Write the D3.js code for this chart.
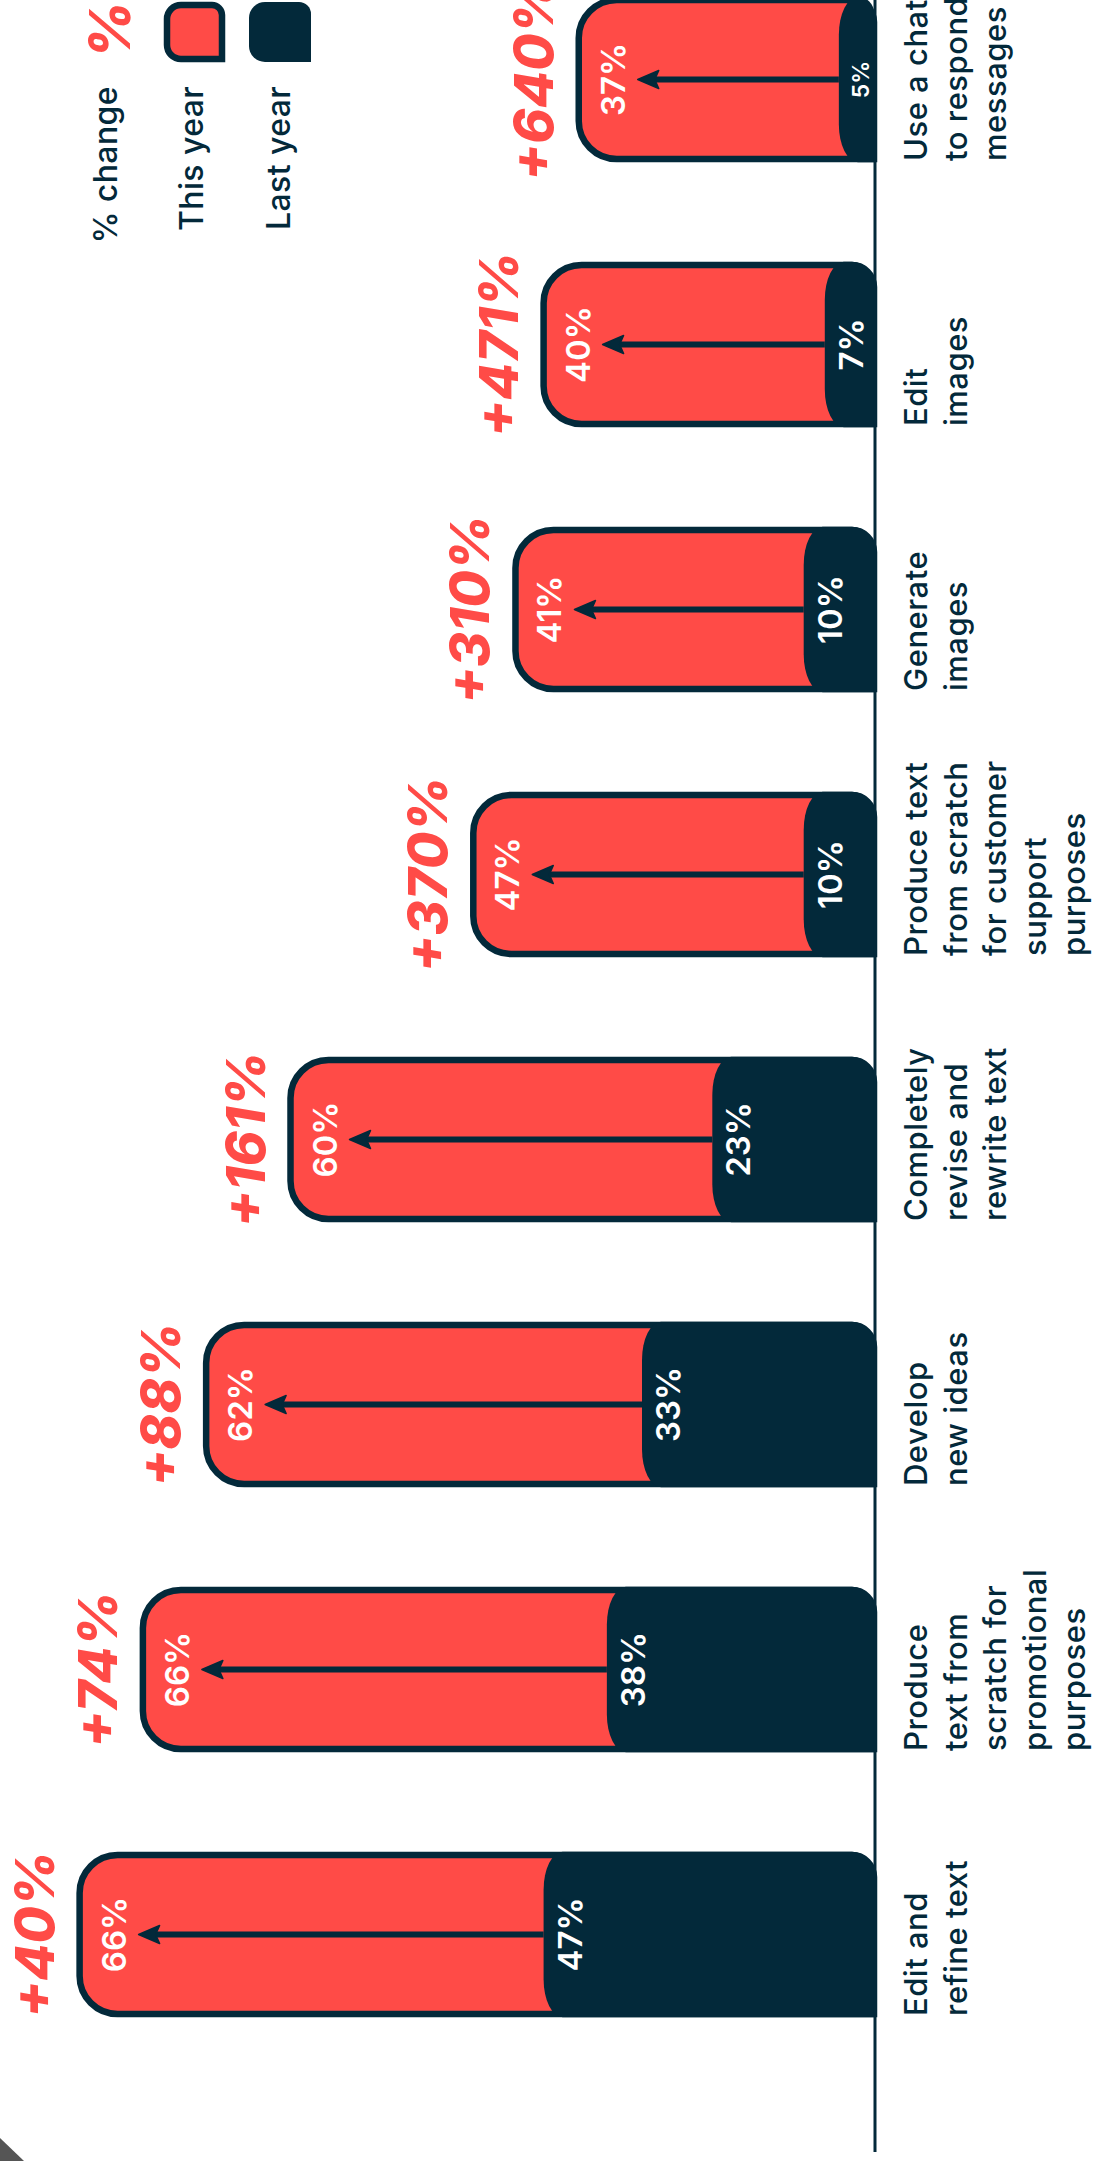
<!DOCTYPE html>
<html>
<head>
<meta charset="utf-8">
<script src="https://cdn.jsdelivr.net/npm/d3@7"></script>
<style>
  html, body { margin: 0; padding: 0; background: #ffffff; }
  svg { display: block; }
  text { font-family: Inter, "Open Sans", sans-serif; }
</style>
</head>
<body>
<svg id="chart" width="1098" height="2161"></svg>
<script>
// ---------- data ----------
const categories = [
  "Edit and refine text",
  "Produce text from scratch for promotional purposes",
  "Develop new ideas",
  "Completely revise and rewrite text",
  "Produce text from scratch for customer support purposes",
  "Generate images",
  "Edit images",
  "Use a chatbot to respond to messages"
];
const categoryLines = [
  ["Edit and", "refine text"],
  ["Produce", "text from", "scratch for", "promotional", "purposes"],
  ["Develop", "new ideas"],
  ["Completely", "revise and", "rewrite text"],
  ["Produce text", "from scratch", "for customer", "support", "purposes"],
  ["Generate", "images"],
  ["Edit", "images"],
  ["Use a chatbot", "to respond to", "messages"]
];
const thisYear = [66, 66, 62, 60, 47, 41, 40, 37];
const lastYear = [47, 38, 33, 23, 10, 10, 7, 5];
const changeLabels = ["+40%", "+74%", "+88%", "+161%", "+370%", "+310%", "+471%", "+640%"];
const legendItems = ["% change", "This year", "Last year"];

// ---------- style ----------
const RED = "#ff4b47";
const DARK = "#03293a";
const SW = 6.5;

const svg = d3.select("#chart");
svg.append("rect").attr("width", 1098).attr("height", 2161).attr("fill", "#ffffff");

// ---------- scales ----------
const baseX = 874;
const x = d3.scaleLinear().domain([0, 100]).range([baseX, baseX - 703]);
const y = d3.scaleBand().domain(d3.range(categories.length)).range([2014, 0])
  .paddingInner(0.4).paddingOuter(0);
const bw = y.bandwidth();

function barPath(x0, x1, y0, y1, rlx, rly, rtr) {
  const w = x1 - x0;
  rlx = Math.min(rlx, w * 0.6);
  rtr = Math.max(0, Math.min(rtr, w - rlx));
  return `M${x1},${y1} L${x0 + rlx},${y1} A${rlx},${rly} 0 0 1 ${x0},${y1 - rly} ` +
         `L${x0},${y0 + rly} A${rlx},${rly} 0 0 1 ${x0 + rlx},${y0} ` +
         `L${x1 - rtr},${y0} A${rtr},${rtr} 0 0 1 ${x1},${y0 + rtr} Z`;
}

const rows = categories.map((c, i) => ({
  i, cat: c, lines: categoryLines[i], now: thisYear[i], prev: lastYear[i], change: changeLabels[i]
}));

const g = svg.append("g");
const bars = g.selectAll("g.bar").data(rows).join("g").attr("class", "bar");

// outer (stacked total) bar
bars.append("path")
  .attr("d", d => barPath(x(d.prev + d.now), baseX, y(d.i), y(d.i) + bw, 38, 38, 22))
  .attr("fill", RED).attr("stroke", DARK).attr("stroke-width", SW);

// last-year segment
bars.append("path")
  .attr("d", d => barPath(x(d.prev), baseX, y(d.i) - SW / 2, y(d.i) + bw + SW / 2, 19, 38, 22))
  .attr("fill", DARK);

// arrows
bars.append("line")
  .attr("x1", d => x(d.prev))
  .attr("x2", d => x(d.prev + d.now) + 70)
  .attr("y1", d => y(d.i) + bw / 2).attr("y2", d => y(d.i) + bw / 2)
  .attr("stroke", DARK).attr("stroke-width", 6);
bars.append("path")
  .attr("d", d => {
    const tx = x(d.prev + d.now) + 59, cy = y(d.i) + bw / 2;
    return `M${tx},${cy} L${tx + 21},${cy - 9} L${tx + 17},${cy} L${tx + 21},${cy + 9} Z`;
  })
  .attr("fill", DARK).attr("stroke", DARK).attr("stroke-width", 1.5).attr("stroke-linejoin", "round");

// this-year labels
bars.append("text")
  .attr("transform", d => `translate(${x(d.prev + d.now) + 46},${y(d.i) + bw / 2}) rotate(-90)`)
  .attr("text-anchor", "middle")
  .attr("fill", "#ffffff").attr("font-size", 33).attr("font-weight", 600)
  .text(d => d.now + "%");

// last-year labels
bars.append("text")
  .attr("transform", d => `translate(${x(d.prev) + (d.prev < 6 ? 30 : 38)},${y(d.i) + bw / 2}) rotate(-90)`)
  .attr("text-anchor", "middle")
  .attr("fill", "#ffffff").attr("font-size", d => d.prev < 6 ? 23 : 33).attr("font-weight", 600)
  .text(d => d.prev + "%");

// % change labels
bars.append("text")
  .attr("transform", d => `translate(${x(d.prev + d.now) - 26},${y(d.i) + bw / 2}) rotate(-90)`)
  .attr("text-anchor", "middle")
  .attr("fill", RED).attr("font-size", 54).attr("font-weight", 800).attr("font-style", "italic")
  .text(d => d.change);

// axis line
g.append("line").attr("x1", baseX + 1).attr("x2", baseX + 1).attr("y1", 0).attr("y2", 2152)
  .attr("stroke", DARK).attr("stroke-width", 3);

// category labels
const cl = bars.append("text")
  .attr("transform", d => `translate(927,${y(d.i) + bw + 2}) rotate(-90)`)
  .attr("text-anchor", "start")
  .attr("fill", DARK).attr("font-size", 31).attr("font-weight", 500)
  .attr("letter-spacing", 0.5);
cl.selectAll("tspan").data(d => d.lines).join("tspan")
  .attr("x", 0).attr("dy", (d, k) => k === 0 ? 0 : 39.5)
  .text(d => d);

// ---------- legend ----------
const lg = svg.append("g");
lg.append("text")
  .attr("transform", "translate(130,30) rotate(-90)")
  .attr("text-anchor", "middle")
  .attr("fill", RED).attr("font-size", 56).attr("font-weight", 800).attr("font-style", "italic")
  .text("%");
lg.append("path")
  .attr("d", barPath(167, 222, 5, 59, 14, 14, 10))
  .attr("fill", RED).attr("stroke", DARK).attr("stroke-width", 6.5);
lg.append("path")
  .attr("d", barPath(249, 311, 2, 62, 16, 16, 12))
  .attr("fill", DARK);
const legendX = [117, 203, 290];
lg.selectAll("text.leg").data(legendItems).join("text").attr("class", "leg")
  .attr("transform", (d, k) => `translate(${legendX[k]},86) rotate(-90)`)
  .attr("text-anchor", "end")
  .attr("fill", DARK).attr("font-size", 32).attr("font-weight", 500).attr("letter-spacing", 0.4)
  .text(d => d);

// corner artifact
svg.append("path").attr("d", "M0,2138 L24,2161 L0,2161 Z").attr("fill", "#555555");
</script>
</body>
</html>
